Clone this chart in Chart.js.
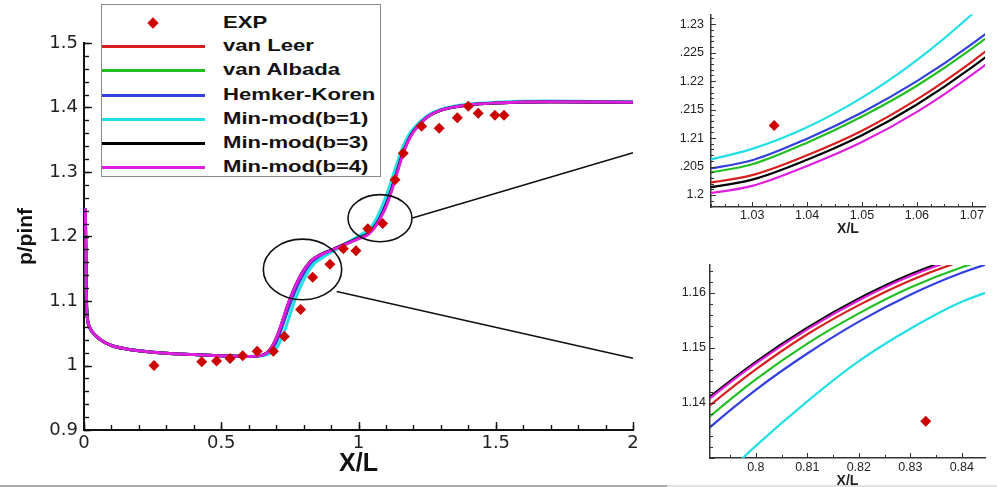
<!DOCTYPE html>
<html><head><meta charset="utf-8">
<script src="https://cdn.jsdelivr.net/npm/chart.js@4.4.1/dist/chart.umd.min.js"></script>
<style>
html,body{margin:0;padding:0;background:#fff;}
#wrap{position:relative;width:997px;height:487px;overflow:hidden;background:#fff;}
canvas{position:absolute;display:block;}
#legend{position:absolute;left:101px;top:4px;width:278px;height:171px;border:1px solid #8a8a8a;background:#fff;font-family:"Liberation Sans",Arial,sans-serif;font-weight:bold;font-size:17px;color:#111;}
.li{position:absolute;left:0;height:0;width:278px;}
.sw{position:absolute;left:0;width:103px;height:3px;top:-1.5px}
.tx{position:absolute;left:121px;top:-10px;line-height:20px;white-space:nowrap;transform:scaleX(1.3);transform-origin:0 50%;}
.dm{position:absolute;left:47px;top:-4px;width:8px;height:8px;transform:rotate(45deg);background:#cc0000}
.hl{position:absolute;height:2px;}
</style></head>
<body>
<div id="wrap">
  <canvas id="c0" width="680" height="487" style="left:0;top:0"></canvas>
  <canvas id="c1" width="317" height="240" style="left:680px;top:0"></canvas>
  <canvas id="c2" width="317" height="247" style="left:680px;top:240px"></canvas>
  <div id="legend"></div>
  <div class="hl" style="left:0;top:485px;width:667px;background:#a8a8a8"></div>
  <div class="hl" style="left:667px;top:485px;width:330px;background:#e2e2e2"></div>
</div>
<script>
// ---------------- data ----------------
const xs = [0.005,0.007,0.009,0.012,0.02,0.03,0.06,0.1,0.15,0.2,0.3,0.4,0.5,0.6,0.65,
  0.68,0.70,0.72,0.74,0.76,0.78,0.79,0.80,0.81,0.82,0.83,0.84,0.85,0.87,0.90,0.95,1.0,
  1.02,1.03,1.04,1.05,1.06,1.07,1.08,1.10,1.12,1.14,1.16,1.18,1.20,1.25,1.30,1.40,1.50,1.70,2.00];

const yVanLeer = [1.243,1.16,1.10,1.075,1.060,1.052,1.040,1.031,1.026,1.023,1.019,1.017,1.015,1.014,1.016,
  1.025,1.040,1.063,1.089,1.1115,1.1304,1.1387,1.1461,1.1525,1.1578,1.1623,1.1658,1.1684,1.1726,1.1782,1.1876,1.1975,
  1.2018,1.2035,1.2070,1.2113,1.2168,1.2234,1.2310,1.249,1.273,1.301,1.328,1.349,1.364,1.385,1.396,1.404,1.407,1.409,1.408];

const yVanAlbada = [1.243,1.16,1.10,1.075,1.060,1.052,1.040,1.031,1.026,1.023,1.019,1.017,1.015,1.014,1.016,
  1.024,1.038,1.060,1.086,1.109,1.1283,1.1367,1.1443,1.1508,1.1563,1.1610,1.1647,1.1675,1.1720,1.1780,1.1878,1.1982,
  1.2035,1.2054,1.2092,1.2138,1.2192,1.2257,1.2333,1.2515,1.2755,1.3035,1.330,1.3505,1.365,1.386,1.396,1.404,1.407,1.409,1.408];

const yHemkerKoren = [1.243,1.16,1.10,1.075,1.060,1.052,1.040,1.031,1.026,1.023,1.019,1.017,1.015,1.014,1.016,
  1.023,1.036,1.058,1.083,1.106,1.126,1.1347,1.1424,1.1490,1.1548,1.1597,1.1637,1.1667,1.1715,1.1779,1.1880,1.1986,
  1.2042,1.2061,1.2099,1.2145,1.2200,1.2265,1.2341,1.2525,1.2765,1.3045,1.331,1.351,1.3655,1.386,1.396,1.404,1.407,1.409,1.408];

const yMinmodB1 = [1.243,1.16,1.10,1.075,1.060,1.052,1.040,1.031,1.026,1.023,1.019,1.017,1.015,1.014,1.015,
  1.019,1.026,1.042,1.065,1.091,1.1135,1.1232,1.1322,1.1403,1.1476,1.1535,1.1584,1.1617,1.1675,1.1755,1.1880,1.2008,
  1.2057,1.2081,1.2119,1.2171,1.2237,1.2317,1.2411,1.262,1.287,1.313,1.337,1.355,1.367,1.387,1.397,1.405,1.408,1.41,1.409];

const yMinmodB3 = [1.243,1.16,1.10,1.075,1.060,1.052,1.040,1.031,1.026,1.023,1.019,1.017,1.015,1.014,1.016,
  1.026,1.042,1.065,1.091,1.1135,1.1322,1.1403,1.1475,1.1537,1.1590,1.1634,1.1668,1.1694,1.1735,1.1790,1.1882,1.1975,
  1.2010,1.2027,1.2062,1.2105,1.2159,1.2224,1.2300,1.248,1.272,1.300,1.327,1.348,1.363,1.385,1.396,1.404,1.407,1.409,1.408];

const yMinmodB4 = [1.243,1.16,1.10,1.075,1.060,1.052,1.040,1.031,1.026,1.023,1.019,1.017,1.015,1.014,1.016,
  1.026,1.042,1.065,1.091,1.1133,1.1319,1.1400,1.1472,1.1534,1.1587,1.1631,1.1665,1.1691,1.1731,1.1785,1.1874,1.1965,
  1.2000,1.2016,1.2051,1.2093,1.2146,1.2211,1.2287,1.246,1.270,1.298,1.325,1.347,1.362,1.385,1.396,1.404,1.407,1.409,1.408];

const expX = [0.255,0.429,0.483,0.532,0.578,0.631,0.690,0.730,0.789,0.833,0.896,0.945,0.991,1.034,1.088,1.133,1.163,1.230,1.294,1.360,1.400,1.436,1.497,1.530];
const expY = [1.000,1.006,1.007,1.011,1.015,1.022,1.022,1.045,1.087,1.1367,1.157,1.181,1.178,1.2122,1.220,1.288,1.329,1.371,1.368,1.384,1.402,1.391,1.388,1.388];

const seriesNames = ['van Leer','van Albada','Hemker-Koren','Min-mod(b=1)','Min-mod(b=3)','Min-mod(b=4)'];
const seriesColors = ['#d81e1e','#22bf22','#3340dd','#22dfe6','#000000','#e01ee0'];
const seriesValues = [yVanLeer,yVanAlbada,yHemkerKoren,yMinmodB1,yMinmodB3,yMinmodB4];
const seriesOrder = [6,5,4,3,2,1];

const mainXTicks = [0,0.5,1,1.5,2];
const mainXLabels = ['0','0.5','1','1.5','2'];
const mainYTicks = [0.9,1.0,1.1,1.2,1.3,1.4,1.5];
const mainYLabels = ['0.9','1','1.1','1.2','1.3','1.4','1.5'];

const in1XTicks = [1.03,1.04,1.05,1.06,1.07];
const in1XLabels = ['1.03','1.04','1.05','1.06','1.07'];
const in1YTicks = [1.2,1.205,1.21,1.215,1.22,1.225,1.23];
const in1YLabels = ['1.2','1.205','1.21','1.215','1.22','1.225','1.23'];

const in2XTicks = [0.8,0.81,0.82,0.83,0.84];
const in2XLabels = ['0.8','0.81','0.82','0.83','0.84'];
const in2YTicks = [1.14,1.15,1.16];
const in2YLabels = ['1.14','1.15','1.16'];

// zoom markers (data coordinates)
const zoomEllipses = [{x:0.796,y:1.1489,rx:0.1428,ry:0.047},{x:1.0783,y:1.2284,rx:0.1166,ry:0.0365}];
const zoomLines = [[1.1963,1.2287,2.0,1.3298],[0.9206,1.1148,2.0,1.0113]];

// ---------------- legend (HTML) ----------------
const legendY = [18,41,65,90,114,138,162];
(function(){
  const L = document.getElementById('legend');
  let h = '<div class="li" style="top:'+legendY[0]+'px"><div class="dm"></div><span class="tx">EXP</span></div>';
  seriesNames.forEach((n,i)=>{
    h += '<div class="li" style="top:'+legendY[i+1]+'px"><div class="sw" style="background:'+seriesColors[i]+'"></div><span class="tx">'+n+'</span></div>';
  });
  L.innerHTML = h;
})();

// ---------------- plugins ----------------
function makeTickPlugin(cfg){
  return {id:'inTicks', afterDraw(chart){
    const {ctx, chartArea:a, scales:{x,y}} = chart;
    ctx.save(); ctx.strokeStyle = cfg.color; ctx.lineWidth = cfg.width;
    const draw = (sc, step, len, horiz) => {
      const n0 = Math.ceil(sc.min/step - 1e-6), n1 = Math.floor(sc.max/step + 1e-6);
      for (let n=n0;n<=n1;n++){
        const p = Math.round(sc.getPixelForValue(n*step)) + 0.5;
        ctx.beginPath();
        if (horiz){ ctx.moveTo(p,a.bottom); ctx.lineTo(p,a.bottom-len); }
        else { ctx.moveTo(a.left,p); ctx.lineTo(a.left+len,p); }
        ctx.stroke();
      }
    };
    draw(x,cfg.xMinor,cfg.minorLen,true); draw(x,cfg.xMajor,cfg.majorLen,true);
    draw(y,cfg.yMinor,cfg.minorLen,false); draw(y,cfg.yMajor,cfg.majorLen,false);
    ctx.restore();
  }};
}
const annotPlugin = {id:'annot', afterDatasetsDraw(chart){
  const {ctx, scales:{x,y}} = chart;
  ctx.save(); ctx.strokeStyle='#111'; ctx.lineWidth=1.6;
  zoomEllipses.forEach(e=>{
    const cx=x.getPixelForValue(e.x), cy=y.getPixelForValue(e.y);
    const rx=Math.abs(x.getPixelForValue(e.x+e.rx)-cx), ry=Math.abs(y.getPixelForValue(e.y+e.ry)-cy);
    ctx.beginPath(); ctx.ellipse(cx,cy,rx,ry,0,0,Math.PI*2); ctx.stroke();
  });
  zoomLines.forEach(l=>{
    ctx.beginPath(); ctx.moveTo(x.getPixelForValue(l[0]),y.getPixelForValue(l[1]));
    ctx.lineTo(x.getPixelForValue(l[2]),y.getPixelForValue(l[3])); ctx.stroke();
  });
  ctx.restore();
}};

// ---------------- datasets ----------------
function lineDatasets(w){
  return seriesNames.map((n,k)=>({
    label:n, data:xs.map((x,i)=>({x:x,y:seriesValues[k][i]})),
    borderColor:seriesColors[k], backgroundColor:seriesColors[k], borderWidth:w,
    pointRadius:0, pointHoverRadius:0, cubicInterpolationMode:'monotone', fill:false, order:seriesOrder[k]
  }));
}
function expDataset(r){
  return {label:'EXP', data:expX.map((x,i)=>({x:x,y:expY[i]})), showLine:false,
    pointStyle:'rectRot', pointRadius:r, pointHoverRadius:r, pointBackgroundColor:'#cc0000',
    pointBorderColor:'#cc0000', pointBorderWidth:0, order:0};
}
function axis(o){
  return {type:'linear', min:o.min, max:o.max,
    afterBuildTicks:s=>{ s.ticks = o.ticks.map(v=>({value:v})); },
    afterFit:s=>{ if (o.width!==undefined) s.width=o.width; if (o.height!==undefined) s.height=o.height; },
    grid:{display:false, drawTicks:false},
    border:{display:true, color:o.bc, width:o.bw},
    ticks:{autoSkip:false, maxRotation:0, minRotation:0, padding:o.pad, color:'#222', font:o.font,
      callback:(v,i)=>o.labels[i]},
    title:o.title || {display:false}
  };
}
const baseOpts = {responsive:false, animation:false, events:[]};

// ---------------- main chart ----------------
new Chart(document.getElementById('c0'), {
  type:'line',
  data:{datasets:[expDataset(5.5), ...lineDatasets(3)]},
  options:Object.assign({}, baseOpts, {
    layout:{padding:{left:0,top:43,right:47,bottom:0}},
    plugins:{legend:{display:false}, tooltip:{enabled:false}},
    scales:{
      x:axis({min:0,max:2,ticks:mainXTicks,labels:mainXLabels,height:57,pad:3,bc:'#111',bw:2,
        font:{family:'DejaVu Sans',size:18},
        title:{display:true,text:'X/L',color:'#111',font:{family:'Liberation Sans',size:25,weight:'bold'},padding:{top:0,bottom:8}}}),
      y:axis({min:0.9,max:1.5,ticks:mainYTicks,labels:mainYLabels,width:84,pad:6,bc:'#111',bw:2,
        font:{family:'DejaVu Sans',size:18},
        title:{display:true,text:'p/pinf',color:'#111',font:{family:'Liberation Sans',size:21,weight:'bold'},padding:{top:14,bottom:0}}})
    }
  }),
  plugins:[makeTickPlugin({xMajor:0.5,xMinor:0.1,yMajor:0.1,yMinor:0.02,majorLen:8,minorLen:5,color:'#111',width:1.4}), annotPlugin]
});

// ---------------- inset 1 ----------------
new Chart(document.getElementById('c1'), {
  type:'line',
  data:{datasets:[expDataset(5.5), ...lineDatasets(2.2)]},
  options:Object.assign({}, baseOpts, {
    layout:{padding:{left:0,top:13,right:12,bottom:0}},
    plugins:{legend:{display:false}, tooltip:{enabled:false}},
    scales:{
      x:axis({min:1.0225,max:1.0724,ticks:in1XTicks,labels:in1XLabels,height:33,pad:1,bc:'#333',bw:1.5,
        font:{family:'Liberation Sans',size:12.5},
        title:{display:true,text:'X/L',color:'#222',font:{family:'Liberation Sans',size:14,weight:'bold'},padding:{top:0,bottom:2}}}),
      y:axis({min:1.1979,max:1.2317,ticks:in1YTicks,labels:in1YLabels,width:31,pad:7,bc:'#333',bw:1.5,
        font:{family:'Liberation Sans',size:12.5}})
    }
  }),
  plugins:[makeTickPlugin({xMajor:0.01,xMinor:0.0025,yMajor:0.005,yMinor:0.001,majorLen:5,minorLen:3,color:'#333',width:1})]
});

// ---------------- inset 2 ----------------
new Chart(document.getElementById('c2'), {
  type:'line',
  data:{datasets:[expDataset(5.5), ...lineDatasets(2.2)]},
  options:Object.assign({}, baseOpts, {
    layout:{padding:{left:0,top:25,right:12,bottom:0}},
    plugins:{legend:{display:false}, tooltip:{enabled:false}},
    scales:{
      x:axis({min:0.7911,max:0.8445,ticks:in2XTicks,labels:in2XLabels,height:29,pad:2,bc:'#333',bw:1.5,
        font:{family:'Liberation Sans',size:12.5},
        title:{display:true,text:'X/L',color:'#222',font:{family:'Liberation Sans',size:14,weight:'bold'},padding:{top:0,bottom:-3}}}),
      y:axis({min:1.13,max:1.1651,ticks:in2YTicks,labels:in2YLabels,width:30,pad:4,bc:'#333',bw:1.5,
        font:{family:'Liberation Sans',size:12.5}})
    }
  }),
  plugins:[makeTickPlugin({xMajor:0.01,xMinor:0.005,yMajor:0.01,yMinor:0.002,majorLen:5,minorLen:3,color:'#333',width:1})]
});
</script>
</body></html>
